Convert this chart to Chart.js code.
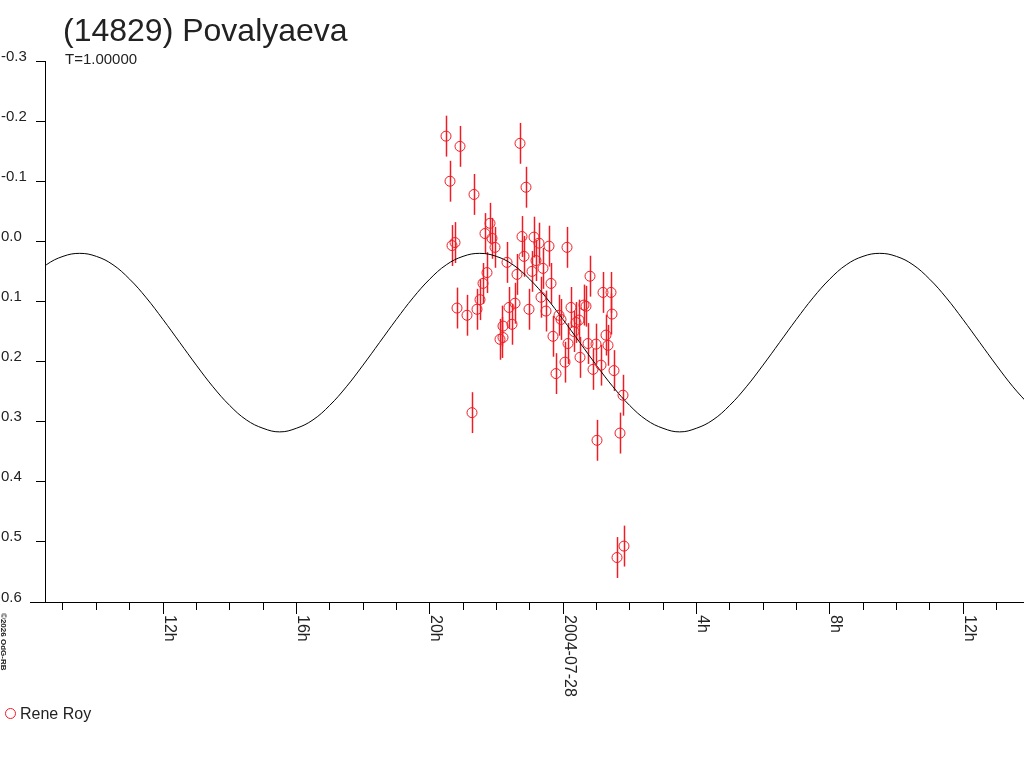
<!DOCTYPE html>
<html>
<head>
<meta charset="utf-8">
<title>(14829) Povalyaeva</title>
<script src="https://cdn.jsdelivr.net/npm/chart.js@4.4.1/dist/chart.umd.min.js"></script>
<style>
  html, body { margin: 0; padding: 0; background: #fff; }
  canvas { display: block; }
</style>
</head>
<body>
<canvas id="lightcurve" width="1024" height="768"></canvas>
<script>
// hours relative to 2004-07-28 00h
const obsHours = [
  -3.51, -3.39, -3.09, -3.33, -3.24, -3.18, -2.88, -2.73, -2.67, -2.58,
  -2.49, -2.40, -2.34, -2.28, -2.19, -2.13, -2.04, -1.89, -1.80, -1.80,
  -1.68, -1.62, -1.53, -1.44, -1.38, -1.29, -1.23, -1.17, -1.11, -1.02,
  -0.93, -0.87, -0.81, -0.72, -0.66, -0.60, -0.51, -0.42, -0.36, -0.30,
  -0.21, -0.12, -0.06, 0.06, 0.12, 0.15, 0.24, 0.33, 0.39, 0.48,
  0.51, 0.63, 0.69, 0.75, 0.81, 0.90, 0.99, 1.02, 1.14, 1.20,
  1.29, 1.35, 1.44, 1.47, 1.53, 1.62, 1.71, 1.80, 1.83
];
const obsMag = [
  -0.175, -0.100, -0.158, 0.007, 0.002, 0.111, 0.123, 0.285, -0.078, 0.113,
  0.097, 0.070, -0.013, 0.052, -0.030, -0.005, 0.010, 0.163, 0.160, 0.141,
  0.035, 0.110, 0.138, 0.103, 0.055, -0.163, -0.008, 0.025, -0.090, 0.113,
  0.050, -0.007, 0.032, 0.003, 0.093, 0.045, 0.116, 0.008, 0.070, 0.158,
  0.220, 0.123, 0.130, 0.201, 0.010, 0.170, 0.110, 0.150, 0.135, 0.131,
  0.193, 0.106, 0.108, 0.170, 0.058, 0.213, 0.171, 0.331, 0.206, 0.085,
  0.156, 0.173, 0.085, 0.121, 0.215, 0.526, 0.319, 0.256, 0.507
];
const obsErr = 0.034;

// fitted curve, read every half hour
const fitHours = [
  -16, -15.5, -15, -14.5, -14, -13.5, -13, -12.5, -12, -11.5,
  -11, -10.5, -10, -9.5, -9, -8.5, -8, -7.5, -7, -6.5,
  -6, -5.5, -5, -4.5, -4, -3.5, -3, -2.5, -2, -1.5,
  -1, -0.5, 0, 0.5, 1, 1.5, 2, 2.5, 3, 3.5,
  4, 4.5, 5, 5.5, 6, 6.5, 7, 7.5, 8, 8.5,
  9, 9.5, 10, 10.5, 11, 11.5, 12, 12.5, 13, 13.5, 14
];
const fitMag = [
  0.063, 0.039, 0.025, 0.020, 0.025, 0.039, 0.063, 0.094, 0.130, 0.168,
  0.206, 0.242, 0.273, 0.297, 0.311, 0.317, 0.311, 0.297, 0.273, 0.242,
  0.206, 0.168, 0.130, 0.094, 0.063, 0.039, 0.025, 0.020, 0.025, 0.039,
  0.063, 0.094, 0.130, 0.168, 0.206, 0.242, 0.273, 0.297, 0.311, 0.317,
  0.311, 0.297, 0.273, 0.242, 0.206, 0.168, 0.130, 0.094, 0.063, 0.039,
  0.025, 0.020, 0.025, 0.039, 0.063, 0.094, 0.130, 0.168, 0.206, 0.242, 0.273
];

const hourTicks = [
  -15, -14, -13, -12, -11, -10, -9, -8, -7, -6, -5, -4, -3, -2, -1,
  0, 1, 2, 3, 4, 5, 6, 7, 8, 9, 10, 11, 12, 13
];
const labelHours = [-12, -8, -4, 0, 4, 8, 12];
const labelText = ["12h", "16h", "20h", "2004-07-28", "4h", "8h", "12h"];
const magTicks = [-0.3, -0.2, -0.1, 0.0, 0.1, 0.2, 0.3, 0.4, 0.5, 0.6];

const RED = "#ee1c25";
const INK = "#222";
const FONT = '"Liberation Sans", Arial, sans-serif';

// same rounding Chart.js uses for 1px lines
const crisp = (p) => Math.round(p - 0.5) + 0.5;

const errorBars = {
  id: "errorBars",
  beforeDatasetsDraw(chart) {
    const { ctx, scales: { x, y } } = chart;
    ctx.save();
    ctx.strokeStyle = RED;
    ctx.lineWidth = 1.5;
    obsHours.forEach((h, i) => {
      const px = crisp(x.getPixelForValue(h));
      ctx.beginPath();
      ctx.moveTo(px, y.getPixelForValue(obsMag[i] - obsErr));
      ctx.lineTo(px, y.getPixelForValue(obsMag[i] + obsErr));
      ctx.stroke();
    });
    ctx.restore();
  },
};

const decorations = {
  id: "decorations",
  afterDraw(chart) {
    const { ctx, chartArea, scales: { x, y } } = chart;
    const bottom = chartArea.bottom;
    ctx.save();
    ctx.fillStyle = INK;
    ctx.strokeStyle = "#000";
    ctx.lineWidth = 1;

    // x axis runs a little past the y axis
    ctx.beginPath();
    ctx.moveTo(30, bottom + 0.5);
    ctx.lineTo(chartArea.left, bottom + 0.5);
    ctx.stroke();

    ctx.textAlign = "left";
    ctx.textBaseline = "alphabetic";

    ctx.font = "32px " + FONT;
    ctx.fillText("(14829) Povalyaeva", 63, 41);
    ctx.font = "15px " + FONT;
    ctx.fillText("T=1.00000", 65, 64);

    magTicks.forEach((v) => {
      ctx.fillText(v.toFixed(1), 1, y.getPixelForValue(v) - 0.5);
    });

    ctx.font = "16px " + FONT;
    labelHours.forEach((h, i) => {
      const px = crisp(x.getPixelForValue(h));
      ctx.beginPath();
      ctx.moveTo(px, bottom);
      ctx.lineTo(px, bottom + 12);
      ctx.stroke();
      ctx.save();
      ctx.translate(px + 1.5, bottom + 13);
      ctx.rotate(Math.PI / 2);
      ctx.fillText(labelText[i], 0, 0);
      ctx.restore();
    });

    ctx.save();
    ctx.font = "bold 8px " + FONT;
    ctx.translate(1, bottom + 11);
    ctx.rotate(Math.PI / 2);
    ctx.fillText("\u00a92026 OdG-RB", 0, 0);
    ctx.restore();

    // legend
    ctx.strokeStyle = RED;
    ctx.beginPath();
    ctx.arc(10.5, 713.5, 5, 0, Math.PI * 2);
    ctx.stroke();
    ctx.font = "16px " + FONT;
    ctx.fillText("Rene Roy", 20, 719);

    ctx.restore();
  },
};

new Chart(document.getElementById("lightcurve"), {
  type: "scatter",
  data: {
    datasets: [
      {
        label: "Rene Roy",
        data: obsHours.map((h, i) => ({ x: h, y: obsMag[i] })),
        pointStyle: "circle",
        pointRadius: 5,
        pointBorderWidth: 1,
        pointBorderColor: RED,
        pointBackgroundColor: "rgba(0,0,0,0)",
        showLine: false,
      },
      {
        type: "line",
        label: "fit",
        data: fitHours.map((h, i) => ({ x: h, y: fitMag[i] })),
        borderColor: "#000",
        borderWidth: 1,
        pointRadius: 0,
        tension: 0.4,
        fill: false,
      },
    ],
  },
  options: {
    responsive: false,
    animation: false,
    devicePixelRatio: 1,
    layout: { autoPadding: false, padding: { top: 61, right: 0, bottom: 0, left: 0 } },
    plugins: {
      legend: { display: false },
      tooltip: { enabled: false },
    },
    scales: {
      x: {
        type: "linear",
        min: -15.54,
        max: 13.83,
        afterBuildTicks: (axis) => {
          axis.ticks = hourTicks.map((value) => ({ value }));
        },
        afterFit: (axis) => {
          axis.height = 166;
        },
        ticks: { display: false },
        grid: { drawOnChartArea: false, drawTicks: true, tickLength: 8, color: "#000" },
        border: { display: true, color: "#000", width: 1 },
      },
      y: {
        type: "linear",
        reverse: true,
        min: -0.3,
        max: 0.6,
        afterBuildTicks: (axis) => {
          axis.ticks = magTicks.map((value) => ({ value }));
        },
        afterFit: (axis) => {
          axis.width = 45;
        },
        ticks: { display: false },
        grid: { drawOnChartArea: false, drawTicks: true, tickLength: 9, color: "#000" },
        border: { display: true, color: "#000", width: 1 },
      },
    },
  },
  plugins: [errorBars, decorations],
});
</script>
</body>
</html>
